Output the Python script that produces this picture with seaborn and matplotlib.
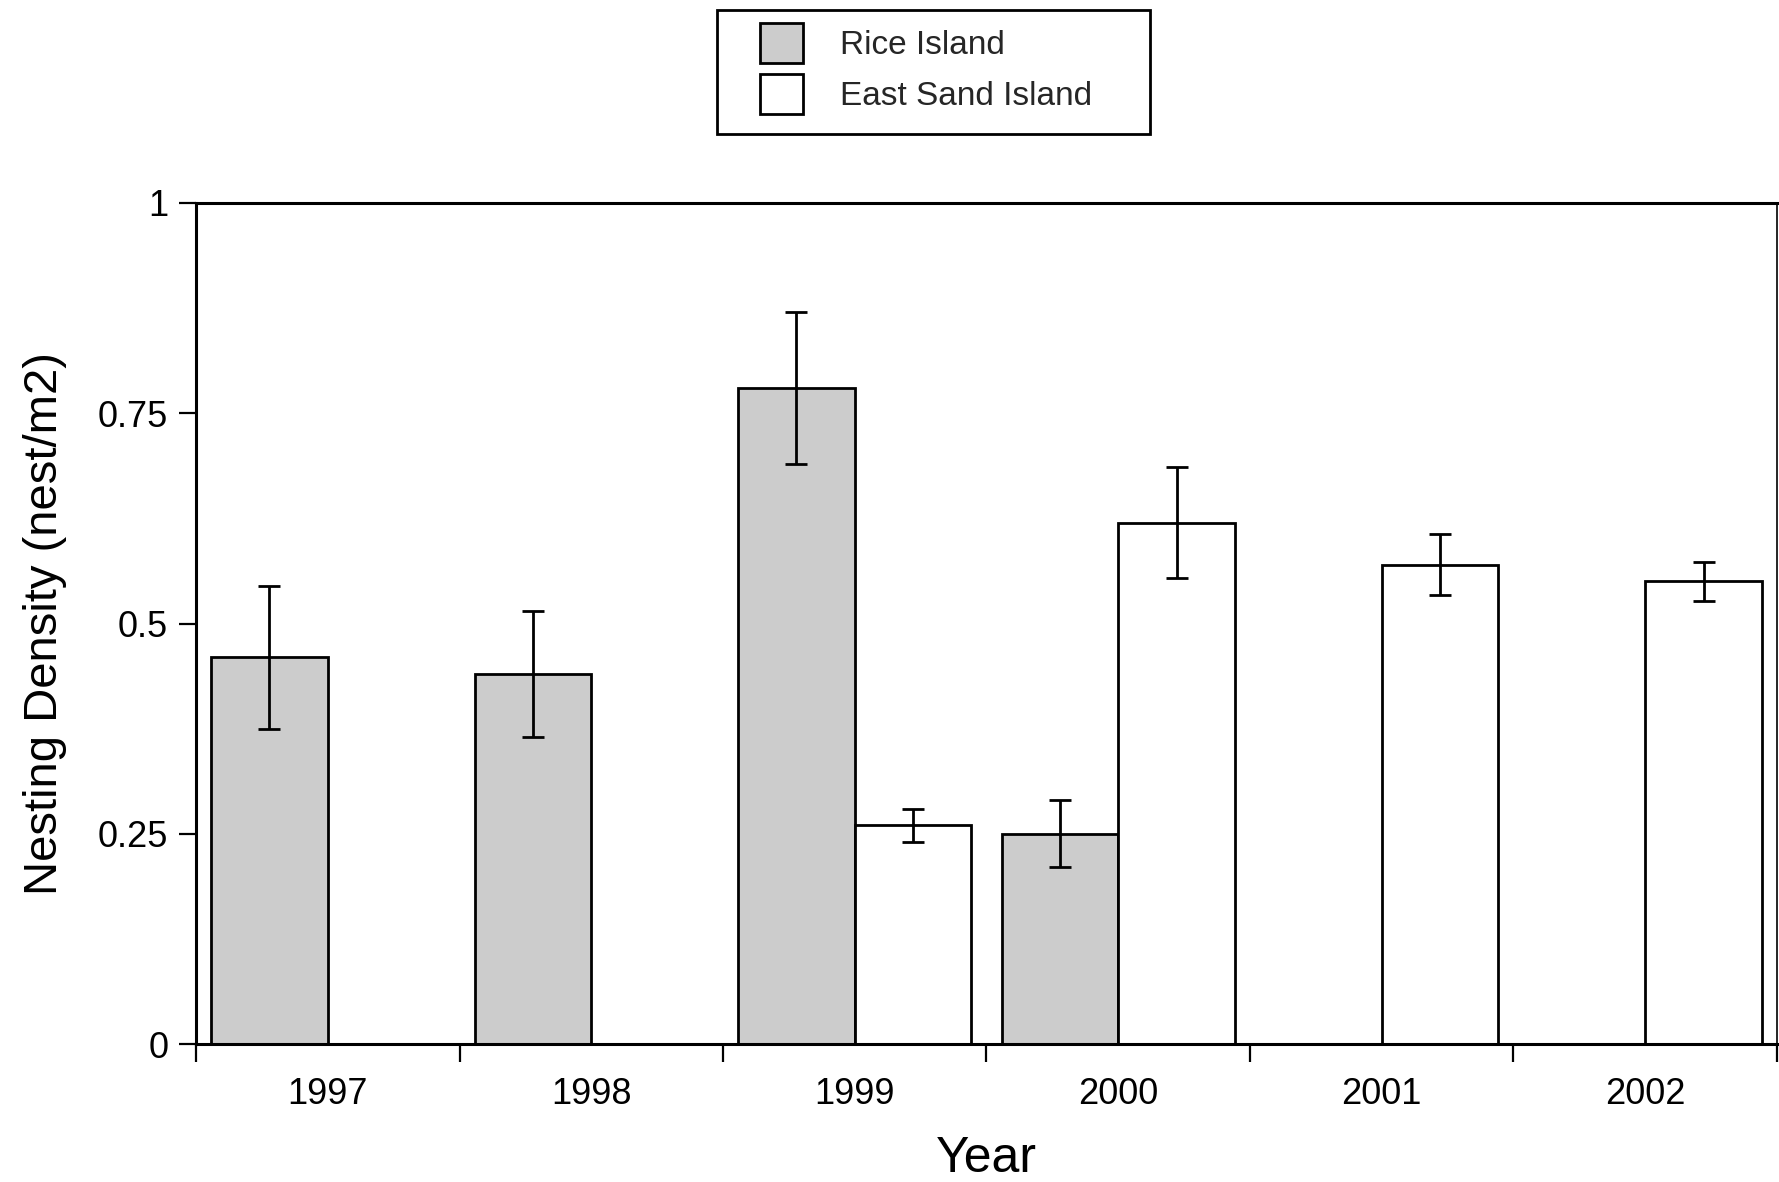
import numpy as np
import pandas as pd
import matplotlib
matplotlib.use("Agg")
import matplotlib.pyplot as plt
from matplotlib.patches import Patch, Rectangle
from matplotlib.ticker import FixedLocator
import seaborn as sns

# Nesting density by year and colony (mean and error half-width)
years = ["1997", "1998", "1999", "2000", "2001", "2002"]
colonies = ["Rice Island", "East Sand Island"]
rice_density = [0.46, 0.44, 0.78, 0.25, np.nan, np.nan]
rice_err = [0.085, 0.075, 0.09, 0.04, np.nan, np.nan]
esi_density = [np.nan, np.nan, 0.26, 0.62, 0.57, 0.55]
esi_err = [np.nan, np.nan, 0.02, 0.066, 0.036, 0.023]
y_ticks = [0, 0.25, 0.5, 0.75, 1]
y_tick_labels = ["0", "0.25", "0.5", "0.75", "1"]

rows = []
for i, yr in enumerate(years):
    for col, dens, err in ((colonies[0], rice_density, rice_err),
                           (colonies[1], esi_density, esi_err)):
        if not np.isnan(dens[i]):
            rows.append({"Year": yr, "Colony": col, "Density": dens[i], "Err": err[i]})
df = pd.DataFrame(rows)

sns.set_theme(style="white")
plt.rcParams["font.family"] = ["Liberation Sans", "DejaVu Sans"]

W, H = 1779, 1182
fig = plt.figure(figsize=(W / 100, H / 100), dpi=100)
ax = fig.add_axes([196 / W, 1 - 1044 / H, (1777 - 196) / W, (1044 - 203) / H])

palette = {"Rice Island": "#cccccc", "East Sand Island": "#ffffff"}
sns.barplot(data=df, x="Year", y="Density", hue="Colony", order=years,
            hue_order=colonies, palette=palette, width=0.886, gap=0,
            edgecolor="black", linewidth=2.0, saturation=1, errorbar=None,
            legend=False, ax=ax)

# error bars centred on each drawn bar
for container, col in zip(ax.containers, colonies):
    sub = df[df["Colony"] == col].set_index("Year")
    for bar in container:
        xc = bar.get_x() + bar.get_width() / 2
        yr = years[int(round(xc))]
        if yr in sub.index:
            ax.errorbar(xc, sub.loc[yr, "Density"], yerr=sub.loc[yr, "Err"],
                        fmt="none", ecolor="black", elinewidth=2.0,
                        capsize=8, capthick=2.0, zorder=5)

ax.set_xlim(-0.5, len(years) - 0.5)
ax.set_ylim(0, 1)
ax.set_yticks(y_ticks)
ax.set_yticklabels(y_tick_labels)
ax.set_xticks(range(len(years)))
ax.set_xticklabels(years)
ax.xaxis.set_minor_locator(FixedLocator(np.arange(-0.5, len(years), 1.0)))
ax.tick_params(axis="x", which="major", length=0, pad=24, labelsize=26, colors="black")
ax.tick_params(axis="x", which="minor", length=13, width=1.6, direction="out", bottom=True, color="black")
ax.tick_params(axis="y", which="major", length=12, width=1.6, direction="out", left=True,
               pad=8, labelsize=26, colors="black")

for side, lw in (("left", 2.2), ("bottom", 2.2), ("top", 2.2), ("right", 1.2)):
    ax.spines[side].set_visible(True)
    ax.spines[side].set_color("black")
    ax.spines[side].set_linewidth(lw)

ax.set_xlabel("Year", fontsize=36, labelpad=17, color="black")
ax.set_ylabel("Nesting Density (nest/m2)", fontsize=34, labelpad=22, color="black")

# legend box drawn separately so the entries can sit left of centre inside it
fig.add_artist(Rectangle((717 / W, 1 - 134 / H), 433 / W, 124 / H, transform=fig.transFigure,
                         facecolor="white", edgecolor="black", linewidth=2.0, zorder=1))
handles = [Patch(facecolor=palette[c], edgecolor="black", linewidth=2.0) for c in colonies]
leg = fig.legend(handles, colonies, loc="upper left",
                 bbox_to_anchor=(760 / W, 1 - 23 / H),
                 fontsize=24, frameon=False,
                 handlelength=1.3, handleheight=1.455, handletextpad=1.1,
                 borderpad=0, labelspacing=0.34, borderaxespad=0)
leg.set_zorder(2)

fig.savefig("out.png", dpi=100, facecolor="white")
